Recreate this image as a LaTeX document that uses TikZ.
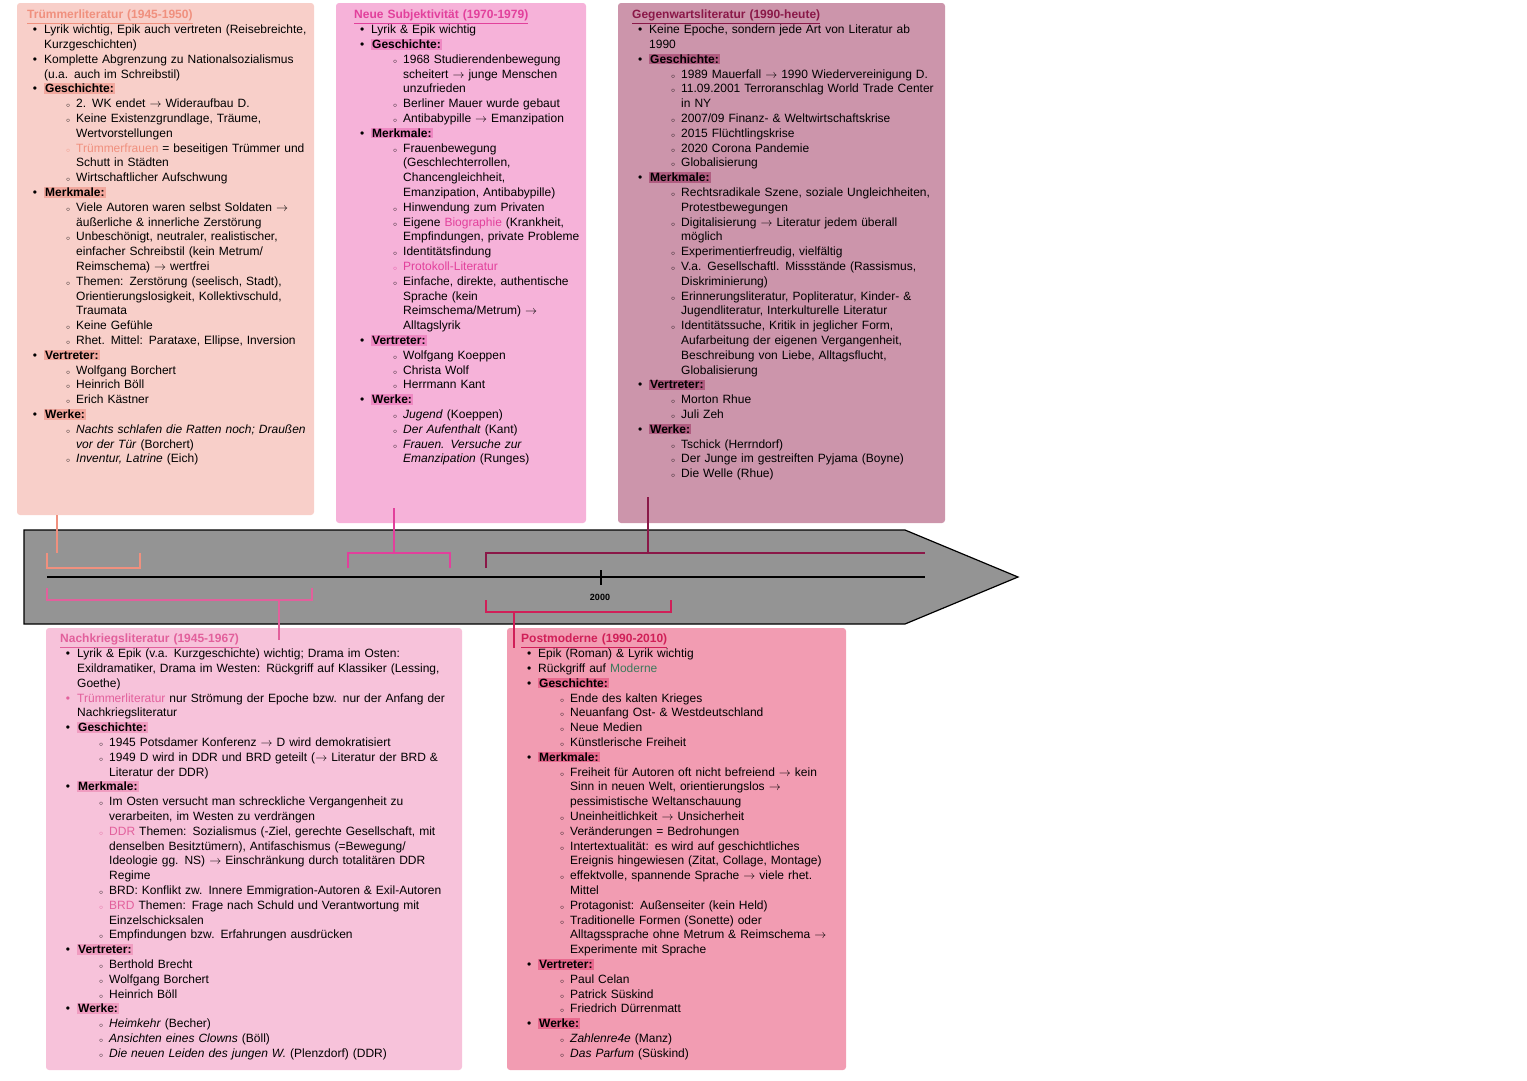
\documentclass[tikz,border=0pt]{standalone}
\usepackage{fontspec}
\setmainfont{Liberation Sans}
\usepackage{enumitem}
\setlist[itemize,1]{label=\textbullet,leftmargin=17pt,labelsep=7pt,itemsep=0pt,topsep=0pt,parsep=0pt,partopsep=0pt}
\setlist[itemize,2]{label={\scriptsize$\circ$},leftmargin=32pt,labelsep=6pt,itemsep=0pt,topsep=0pt,parsep=0pt,partopsep=0pt}
\definecolor{cA}{HTML}{F8CFC9}\definecolor{tA}{HTML}{F0907E}\definecolor{hA}{HTML}{F2A89E}
\definecolor{cB}{HTML}{F6B2D9}\definecolor{tB}{HTML}{E2409C}\definecolor{hB}{HTML}{EE88C2}
\definecolor{cC}{HTML}{CC95AB}\definecolor{tC}{HTML}{8A1848}\definecolor{hC}{HTML}{B05C80}
\definecolor{cD}{HTML}{F7C2DA}\definecolor{tD}{HTML}{E2609C}\definecolor{hD}{HTML}{F09CC0}
\definecolor{cE}{HTML}{F29CB2}\definecolor{tE}{HTML}{D01F58}\definecolor{hE}{HTML}{E8698E}
\definecolor{grn}{HTML}{3C7A5C}
\newcommand{\hlb}[2]{{\setlength\fboxsep{1pt}\colorbox{#1}{\textbf{#2}}}}
\newcommand{\ttl}[2]{{\color{#1}\textbf{\underline{#2}}}\par}
\tikzset{
 box/.style={rounded corners=3pt},
 txt/.style={anchor=north west,inner sep=0pt,text width=#1,align=left,font=\fontsize{12}{14.8}\selectfont},
 br/.style={line width=1.5pt},
}
\begin{document}
\begin{tikzpicture}[x=1pt,y=-1pt]
\useasboundingbox (0,0) rectangle (1527,1080);
% boxes
\fill[box,cA] (17,3) rectangle (314,515);
\fill[box,cB] (336,3) rectangle (586,523);
\fill[box,cC] (618,3) rectangle (945,523);
\fill[box,cD] (46,628) rectangle (462,1070);
\fill[box,cE] (507,628) rectangle (846,1070);
% arrow
\draw[fill=black!42,line width=1.2pt] (24,530) -- (905,530) -- (1018,577) -- (905,624) -- (24,624) -- cycle;
\draw[line width=1.5pt] (47,577) -- (925,577);
\draw[line width=1.5pt] (601,570) -- (601,585);
\node[font=\bfseries\fontsize{9}{10}\selectfont] (y2000) at (600,597) {2000};
% brackets
\coordinate (a1) at (57,515); \coordinate (a2) at (57,553);
\draw[br,tA] (47,553) -- (47,568) -- (140,568) -- (140,553);
\draw[br,tA] (a1) -- (a2);
\coordinate (b1) at (394,508); \coordinate (b2) at (394,553);
\draw[br,tB] (348,568) -- (348,553) -- (450,553) -- (450,568);
\draw[br,tB] (b1) -- (b2);
\coordinate (c1) at (648,497); \coordinate (c2) at (648,553);
\draw[br,tC] (486,568) -- (486,553) -- (925,553);
\draw[br,tC] (c1) -- (c2);
\coordinate (d1) at (279,600); \coordinate (d2) at (279,640);
\draw[br,tD] (47,588) -- (47,600) -- (312,600) -- (312,588);
\draw[br,tD] (d1) -- (d2);
\coordinate (e1) at (514,612); \coordinate (e2) at (514,648);
\draw[br,tE] (486,600) -- (486,612) -- (671,612) -- (671,600);
\draw[br,tE] (e1) -- (e2);
% texts
\node[txt=280pt] (tA) at (27,10) {\ttl{tA}{Trümmerliteratur (1945-1950)}
\begin{itemize}
\item Lyrik wichtig, Epik auch vertreten (Reisebreichte, Kurzgeschichten)
\item Komplette Abgrenzung zu Nationalsozialismus (u.a. auch im Schreibstil)
\item \hlb{hA}{Geschichte:}
 \begin{itemize}
 \item 2. WK endet $\rightarrow$ Wideraufbau D.
 \item Keine Existenzgrundlage, Träume, Wertvorstellungen
 \item[\color{tA}\scriptsize$\circ$] {\color{tA}Trümmerfrauen} = beseitigen Trümmer und Schutt in Städten
 \item Wirtschaftlicher Aufschwung
 \end{itemize}
\item \hlb{hA}{Merkmale:}
 \begin{itemize}
 \item Viele Autoren waren selbst Soldaten $\rightarrow$ äußerliche \& innerliche Zerstörung
 \item Unbeschönigt, neutraler, realistischer, einfacher Schreibstil (kein Metrum/ Reimschema) $\rightarrow$ wertfrei
 \item Themen: Zerstörung (seelisch, Stadt), Orientierungslosigkeit, Kollektivschuld, Traumata
 \item Keine Gefühle
 \item Rhet. Mittel: Parataxe, Ellipse, Inversion
 \end{itemize}
\item \hlb{hA}{Vertreter:}
 \begin{itemize}
 \item Wolfgang Borchert
 \item Heinrich Böll
 \item Erich Kästner
 \end{itemize}
\item \hlb{hA}{Werke:}
 \begin{itemize}
 \item \textit{Nachts schlafen die Ratten noch; Draußen vor der Tür} (Borchert)
 \item \textit{Inventur, Latrine} (Eich)
 \end{itemize}
\end{itemize}};
\node[txt=228pt] (tB) at (354,10) {\ttl{tB}{Neue Subjektivität (1970-1979)}
\begin{itemize}
\item Lyrik \& Epik wichtig
\item \hlb{hB}{Geschichte:}
 \begin{itemize}
 \item 1968 Studierendenbewegung scheitert $\rightarrow$ junge Menschen unzufrieden
 \item Berliner Mauer wurde gebaut
 \item Antibabypille $\rightarrow$ Emanzipation
 \end{itemize}
\item \hlb{hB}{Merkmale:}
 \begin{itemize}
 \item Frauenbewegung (Geschlechterrollen, Chancengleichheit, Emanzipation, Antibabypille)
 \item Hinwendung zum Privaten
 \item Eigene {\color{tB}Biographie} (Krankheit, Empfindungen, private Probleme
 \item Identitätsfindung
 \item[\color{tB}\scriptsize$\circ$] {\color{tB}Protokoll-Literatur}
 \item Einfache, direkte, authentische Sprache (kein Reimschema/Metrum) $\rightarrow$ Alltagslyrik
 \end{itemize}
\item \hlb{hB}{Vertreter:}
 \begin{itemize}
 \item Wolfgang Koeppen
 \item Christa Wolf
 \item Herrmann Kant
 \end{itemize}
\item \hlb{hB}{Werke:}
 \begin{itemize}
 \item \textit{Jugend} (Koeppen)
 \item \textit{Der Aufenthalt} (Kant)
 \item \textit{Frauen. Versuche zur Emanzipation} (Runges)
 \end{itemize}
\end{itemize}};
\node[txt=305pt] (tC) at (632,10) {\ttl{tC}{Gegenwartsliteratur (1990-heute)}
\begin{itemize}
\item Keine Epoche, sondern jede Art von Literatur ab 1990
\item \hlb{hC}{Geschichte:}
 \begin{itemize}
 \item 1989 Mauerfall $\rightarrow$ 1990 Wiedervereinigung D.
 \item 11.09.2001 Terroranschlag World Trade Center in NY
 \item 2007/09 Finanz- \& Weltwirtschaftskrise
 \item 2015 Flüchtlingskrise
 \item 2020 Corona Pandemie
 \item Globalisierung
 \end{itemize}
\item \hlb{hC}{Merkmale:}
 \begin{itemize}
 \item Rechtsradikale Szene, soziale Ungleichheiten, Protestbewegungen
 \item Digitalisierung $\rightarrow$ Literatur jedem überall möglich
 \item Experimentierfreudig, vielfältig
 \item V.a. Gesellschaftl. Missstände (Rassismus, Diskriminierung)
 \item Erinnerungsliteratur, Popliteratur, Kinder- \& Jugendliteratur, Interkulturelle Literatur
 \item Identitätssuche, Kritik in jeglicher Form, Aufarbeitung der eigenen Vergangenheit, Beschreibung von Liebe, Alltagsflucht, Globalisierung
 \end{itemize}
\item \hlb{hC}{Vertreter:}
 \begin{itemize}
 \item Morton Rhue
 \item Juli Zeh
 \end{itemize}
\item \hlb{hC}{Werke:}
 \begin{itemize}
 \item Tschick (Herrndorf)
 \item Der Junge im gestreiften Pyjama (Boyne)
 \item Die Welle (Rhue)
 \end{itemize}
\end{itemize}};
\node[txt=395pt] (tD) at (60,634) {\ttl{tD}{Nachkriegsliteratur (1945-1967)}
\begin{itemize}
\item Lyrik \& Epik (v.a. Kurzgeschichte) wichtig; Drama im Osten: Exildramatiker, Drama im Westen: Rückgriff auf Klassiker (Lessing, Goethe)
\item[\color{tD}\textbullet] {\color{tD}Trümmerliteratur} nur Strömung der Epoche bzw. nur der Anfang der Nachkriegsliteratur
\item \hlb{hD}{Geschichte:}
 \begin{itemize}
 \item 1945 Potsdamer Konferenz $\rightarrow$ D wird demokratisiert
 \item 1949 D wird in DDR und BRD geteilt ($\rightarrow$ Literatur der BRD \& Literatur der DDR)
 \end{itemize}
\item \hlb{hD}{Merkmale:}
 \begin{itemize}
 \item Im Osten versucht man schreckliche Vergangenheit zu verarbeiten, im Westen zu verdrängen
 \item[\color{tD}\scriptsize$\circ$] {\color{tD}DDR} Themen: Sozialismus (-Ziel, gerechte Gesellschaft, mit denselben Besitztümern), Antifaschismus (=Bewegung/ Ideologie gg. NS) $\rightarrow$ Einschränkung durch totalitären DDR Regime
 \item BRD: Konflikt zw. Innere Emmigration-Autoren \& Exil-Autoren
 \item[\color{tD}\scriptsize$\circ$] {\color{tD}BRD} Themen: Frage nach Schuld und Verantwortung mit Einzelschicksalen
 \item Empfindungen bzw. Erfahrungen ausdrücken
 \end{itemize}
\item \hlb{hD}{Vertreter:}
 \begin{itemize}
 \item Berthold Brecht
 \item Wolfgang Borchert
 \item Heinrich Böll
 \end{itemize}
\item \hlb{hD}{Werke:}
 \begin{itemize}
 \item \textit{Heimkehr} (Becher)
 \item \textit{Ansichten eines Clowns} (Böll)
 \item \textit{Die neuen Leiden des jungen W.} (Plenzdorf) (DDR)
 \end{itemize}
\end{itemize}};
\node[txt=320pt] (tE) at (521,634) {\ttl{tE}{Postmoderne (1990-2010)}
\begin{itemize}
\item Epik (Roman) \& Lyrik wichtig
\item Rückgriff auf {\color{grn}Moderne}
\item \hlb{hE}{Geschichte:}
 \begin{itemize}
 \item Ende des kalten Krieges
 \item Neuanfang Ost- \& Westdeutschland
 \item Neue Medien
 \item Künstlerische Freiheit
 \end{itemize}
\item \hlb{hE}{Merkmale:}
 \begin{itemize}
 \item Freiheit für Autoren oft nicht befreiend $\rightarrow$ kein Sinn in neuen Welt, orientierungslos $\rightarrow$ pessimistische Weltanschauung
 \item Uneinheitlichkeit $\rightarrow$ Unsicherheit
 \item Veränderungen = Bedrohungen
 \item Intertextualität: es wird auf geschichtliches Ereignis hingewiesen (Zitat, Collage, Montage)
 \item effektvolle, spannende Sprache $\rightarrow$ viele rhet. Mittel
 \item Protagonist: Außenseiter (kein Held)
 \item Traditionelle Formen (Sonette) oder Alltagssprache ohne Metrum \& Reimschema $\rightarrow$ Experimente mit Sprache
 \end{itemize}
\item \hlb{hE}{Vertreter:}
 \begin{itemize}
 \item Paul Celan
 \item Patrick Süskind
 \item Friedrich Dürrenmatt
 \end{itemize}
\item \hlb{hE}{Werke:}
 \begin{itemize}
 \item \textit{Zahlenre4e} (Manz)
 \item \textit{Das Parfum} (Süskind)
 \end{itemize}
\end{itemize}};
\end{tikzpicture}
\end{document}
